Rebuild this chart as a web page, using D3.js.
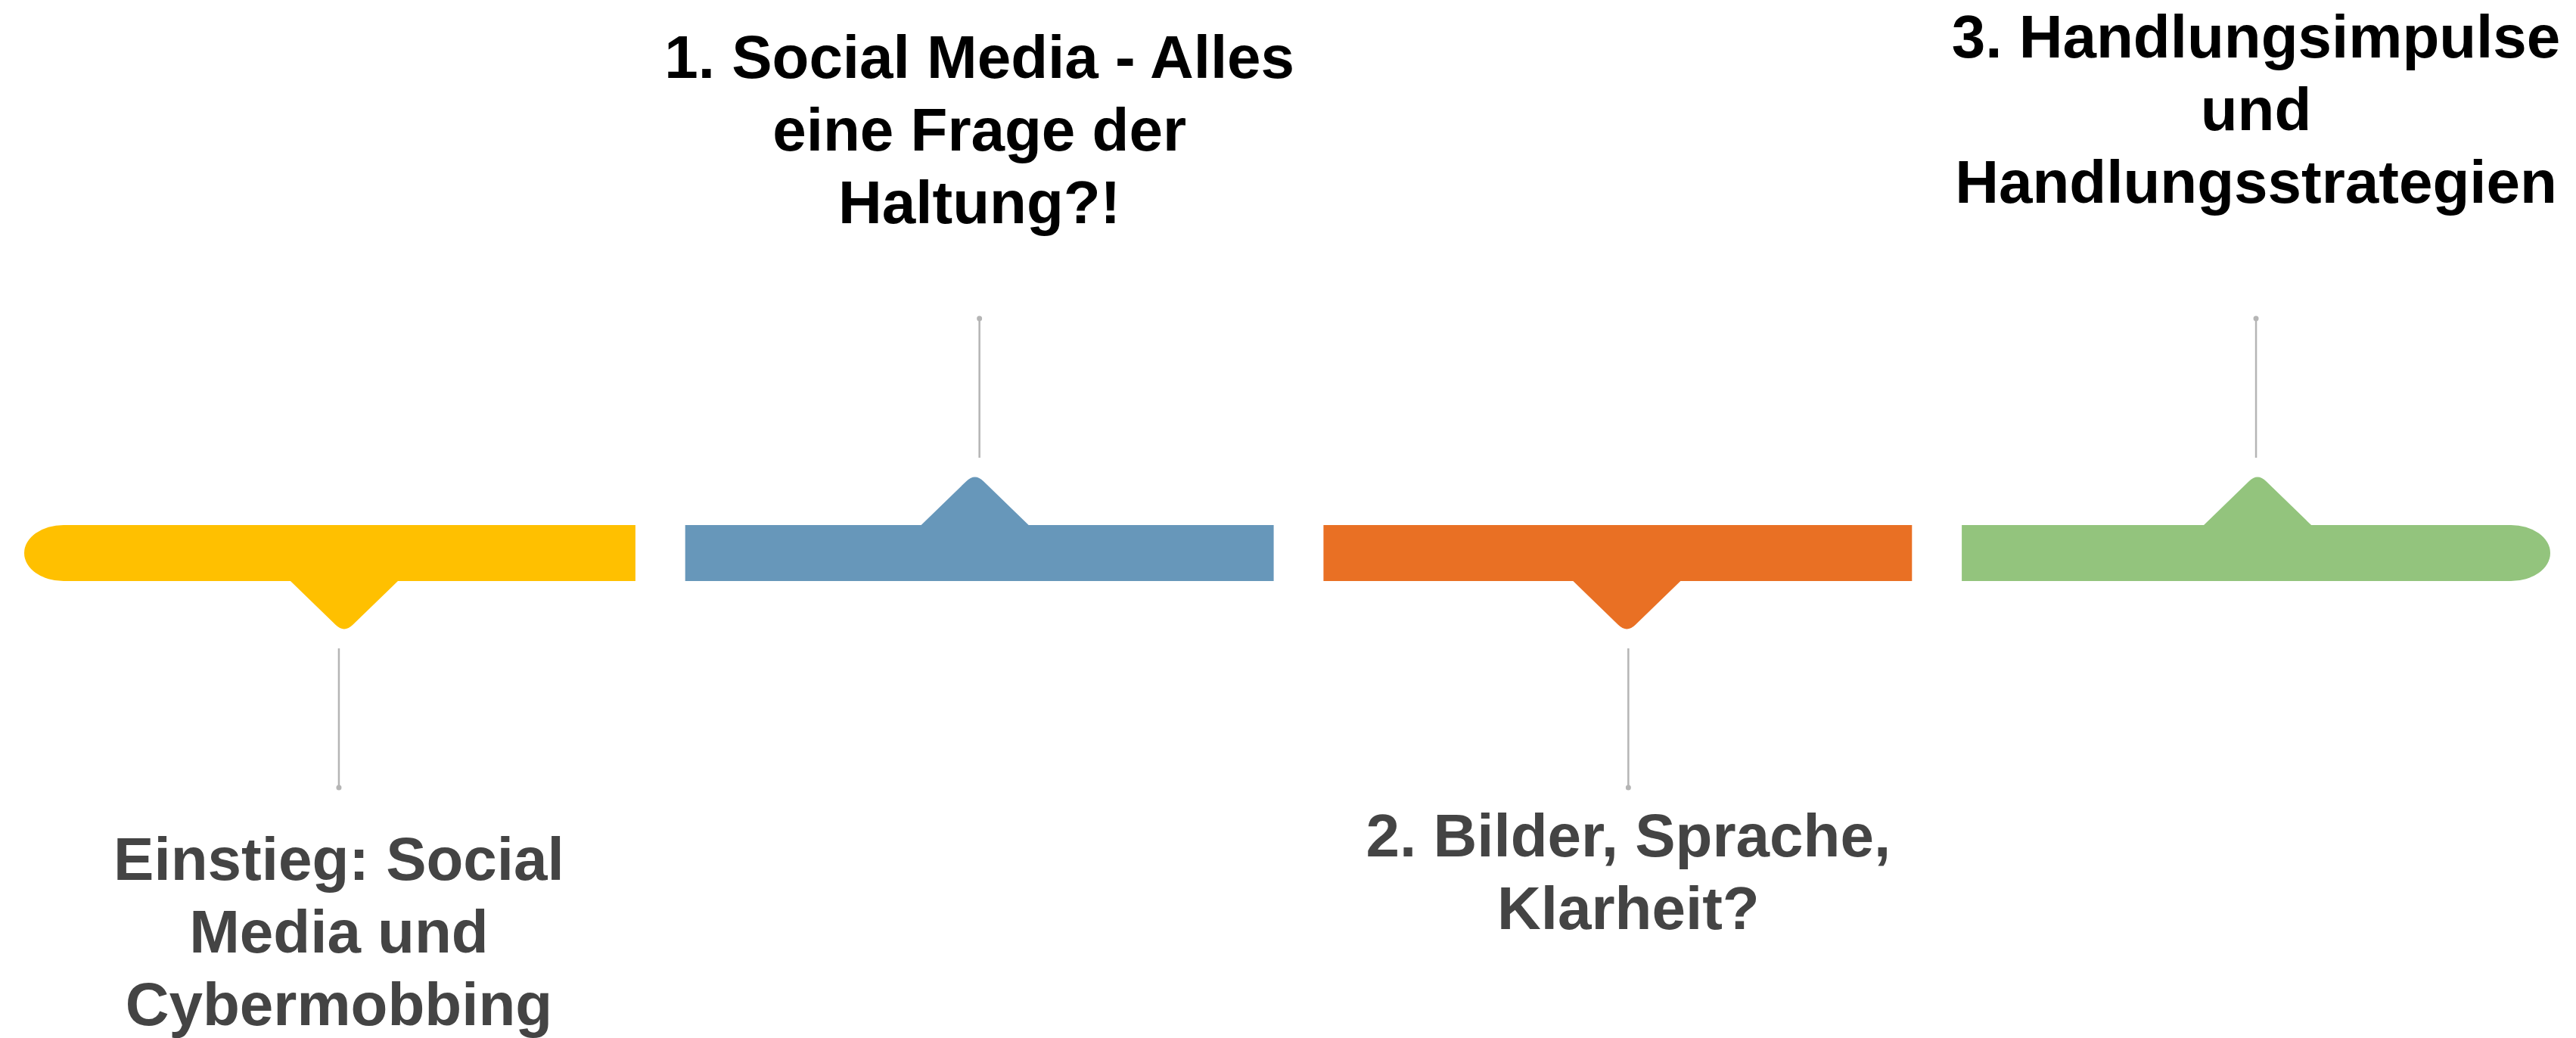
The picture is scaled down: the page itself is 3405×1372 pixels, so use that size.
<!DOCTYPE html>
<html lang="de">
<head>
  <meta charset="utf-8">
  <title>Ablauf</title>
  <script src="https://d3js.org/d3.v7.min.js"></script>
  <style>
    body {
      margin: 0;
      background: #fff;
    }
    text {
      font-family: "Helvetica Neue", Helvetica, Arial, "Liberation Sans", sans-serif;
      font-weight: bold;
      font-size: 80px;
    }
  </style>
</head>
<body>
<script>
  // the four parts of the session, left to right
  var stages = ["Einstieg", "Teil 1", "Teil 2", "Teil 3"];
  var labels = [
    ["Einstieg: Social", "Media und", "Cybermobbing"],
    ["1. Social Media - Alles", "eine Frage der", "Haltung?!"],
    ["2. Bilder, Sprache,", "Klarheit?"],
    ["3. Handlungsimpulse", "und", "Handlungsstrategien"]
  ];
  var sides = ["below", "above", "below", "above"];
  var colours = ["#FFC000", "#6797BA", "#E97024", "#93C47D"];
  var textColours = ["#444444", "#000000", "#444444", "#000000"];

  // layout
  var w = 3405, h = 1372;
  var barTop = 694, barBot = 768;
  var notchHalf = 71, notchDepth = 69, tipR = 16;
  var capRx = 52;
  var lineGap = 20, lineLen = 184;
  var lineHeight = 96;
  var firstBaseline = [1163, 103, 1132, 76];
  var notchShift = [4, -6, 12, 2];   // small nudges from the band centre, as in the original slide
  var labelShift = [-3, 0, 14, 0];

  var xScale = d3.scaleBand()
    .domain(stages)
    .range([62, 3371])
    .paddingInner(0.078)
    .paddingOuter(0);

  function centre(d) { return xScale(d) + xScale.bandwidth() / 2; }

  var svg = d3.select("body").append("svg")
    .attr("width", w)
    .attr("height", h);

  function segPath(d, i) {
    var x0 = xScale(d), x1 = x0 + xScale.bandwidth();
    var cx = centre(d) + notchShift[i];
    var ry = (barBot - barTop) / 2;
    var len = Math.sqrt(notchHalf * notchHalf + notchDepth * notchDepth);
    var ux = notchHalf / len * tipR, uy = notchDepth / len * tipR;
    var s = "";

    // top edge, left to right
    if (i === 0) {
      x0 = x0 - 30;
      s += "M" + (x0 + capRx) + "," + barTop;
    } else {
      s += "M" + x0 + "," + barTop;
    }
    if (sides[i] === "above") {
      var tip = barTop - notchDepth;
      s += "L" + (cx - notchHalf) + "," + barTop;
      s += "L" + (cx - ux) + "," + (tip + uy);
      s += "Q" + cx + "," + tip + " " + (cx + ux) + "," + (tip + uy);
      s += "L" + (cx + notchHalf) + "," + barTop;
    }
    // right end
    if (i === stages.length - 1) {
      s += "L" + (x1 - capRx) + "," + barTop;
      s += "A" + capRx + "," + ry + " 0 0 1 " + (x1 - capRx) + "," + barBot;
    } else {
      s += "L" + x1 + "," + barTop;
      s += "L" + x1 + "," + barBot;
    }
    // bottom edge, right to left
    if (sides[i] === "below") {
      var tipB = barBot + notchDepth;
      s += "L" + (cx + notchHalf) + "," + barBot;
      s += "L" + (cx + ux) + "," + (tipB - uy);
      s += "Q" + cx + "," + tipB + " " + (cx - ux) + "," + (tipB - uy);
      s += "L" + (cx - notchHalf) + "," + barBot;
    }
    if (i === 0) {
      s += "L" + (x0 + capRx) + "," + barBot;
      s += "A" + capRx + "," + ry + " 0 0 1 " + (x0 + capRx) + "," + barTop;
    } else {
      s += "L" + x0 + "," + barBot;
    }
    return s + "Z";
  }

  svg.selectAll("path.seg")
    .data(stages)
    .enter()
    .append("path")
    .attr("class", "seg")
    .attr("d", segPath)
    .attr("fill", function (d, i) { return colours[i]; });

  // connector lines with a small dot at the far end
  function lineStart(i) {
    return sides[i] === "below" ? barBot + notchDepth + lineGap : barTop - notchDepth - lineGap;
  }
  function lineEnd(i) {
    return sides[i] === "below" ? lineStart(i) + lineLen : lineStart(i) - lineLen;
  }

  var conn = svg.selectAll("g.conn")
    .data(stages)
    .enter()
    .append("g")
    .attr("class", "conn");

  conn.append("line")
    .attr("x1", function (d, i) { return centre(d) + labelShift[i]; })
    .attr("x2", function (d, i) { return centre(d) + labelShift[i]; })
    .attr("y1", function (d, i) { return lineStart(i); })
    .attr("y2", function (d, i) { return lineEnd(i); })
    .style("stroke", "#b5b5b5")
    .style("stroke-width", 2.5);

  conn.append("circle")
    .attr("cx", function (d, i) { return centre(d) + labelShift[i]; })
    .attr("cy", function (d, i) { return lineEnd(i); })
    .attr("r", 3.5)
    .attr("fill", "#b5b5b5");

  // the labels
  var lab = svg.selectAll("text.label")
    .data(stages)
    .enter()
    .append("text")
    .attr("class", "label")
    .attr("text-anchor", "middle")
    .attr("fill", function (d, i) { return textColours[i]; });

  lab.each(function (d, i) {
    var t = d3.select(this);
    labels[i].forEach(function (line, j) {
      t.append("tspan")
        .attr("x", centre(d) + labelShift[i])
        .attr("y", firstBaseline[i] + j * lineHeight)
        .text(line);
    });
  });
</script>
</body>
</html>
